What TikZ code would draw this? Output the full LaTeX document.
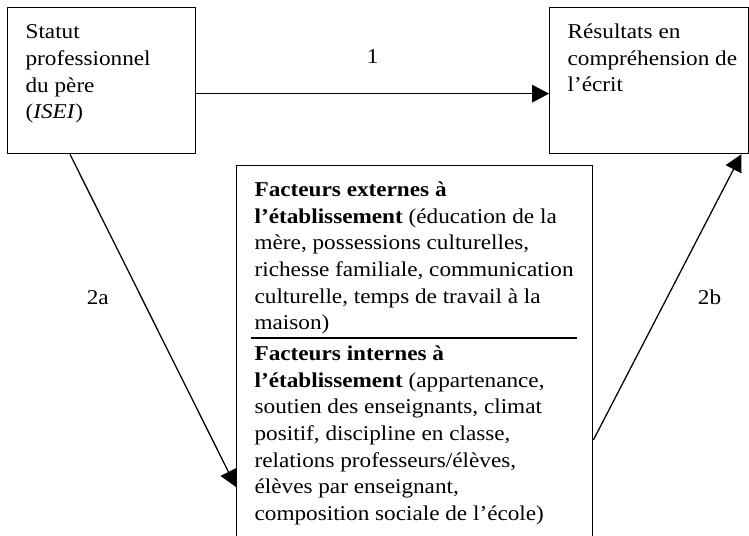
\documentclass[tikz,border=0pt]{standalone}
\usepackage{fontspec}
\setmainfont[FakeStretch=1.1]{Liberation Serif}
\usetikzlibrary{positioning,calc,arrows.meta}

\begin{document}
\begin{tikzpicture}[x=0.025cm, y=-0.025cm, line width=0.9pt, font=\fontsize{15}{19}\selectfont]
    % Styles
    \tikzstyle{cadre} = [rectangle, draw, inner sep=0pt]
    \tikzstyle{texte} = [align=left, inner sep=0pt, anchor=north west]
    \tikzstyle{etiq} = [inner sep=0pt]
    \tikzstyle{line} = [draw, -{Triangle[length=12pt, width=12.5pt]}]

    \useasboundingbox (0,0) rectangle (749,536);

    % Cadres
    \node [cadre, anchor=north west, minimum width=4.7cm, minimum height=3.65cm] (statut) at (7,7) {};
    \node [cadre, anchor=north west, minimum width=4.975cm, minimum height=3.65cm] (resultats) at (549,7) {};
    \node [cadre, anchor=north west, minimum width=8.9cm, minimum height=9.6cm] (facteurs) at (236,165) {};

    % Textes
    \node [texte] (txtstatut) at (25,24) {Statut\\professionnel\\du père\\(\textit{ISEI})};
    \node [texte] (txtresultats) at (567,23) {Résultats en\\compréhension de\\l’écrit};
    \node [texte] (externes) at (254,181) {\textbf{Facteurs externes à}\\\textbf{l’établissement} (éducation de la\\mère, possessions culturelles,\\richesse familiale, communication\\culturelle, temps de travail à la\\maison)};
    \node [texte] (internes) at (254,345) {\textbf{Facteurs internes à}\\\textbf{l’établissement} (appartenance,\\soutien des enseignants, climat\\positif, discipline en classe,\\relations professeurs/élèves,\\élèves par enseignant,\\composition sociale de l’école)};
    \draw ($(facteurs.north west)+(15,173)$) -- ($(facteurs.north east)+(-16,173)$);

    % Connexions
    \path [line] ($(statut.east)+(0,13)$) -- node [etiq, above=0.75cm] (l1) {1} ($(resultats.west)+(0,13)$);
    \path [line] ($(statut.south west)+(63,0)$) -- node [etiq, pos=0.43, left=0.8cm] (l2a) {2a} ($(facteurs.north west)+(0,322)$);
    \path [line] ($(facteurs.north east)+(0,275)$) -- node [etiq, pos=0.5, right=0.75cm] (l2b) {2b} ($(resultats.south east)+(-8,0)$);
\end{tikzpicture}
\end{document}
